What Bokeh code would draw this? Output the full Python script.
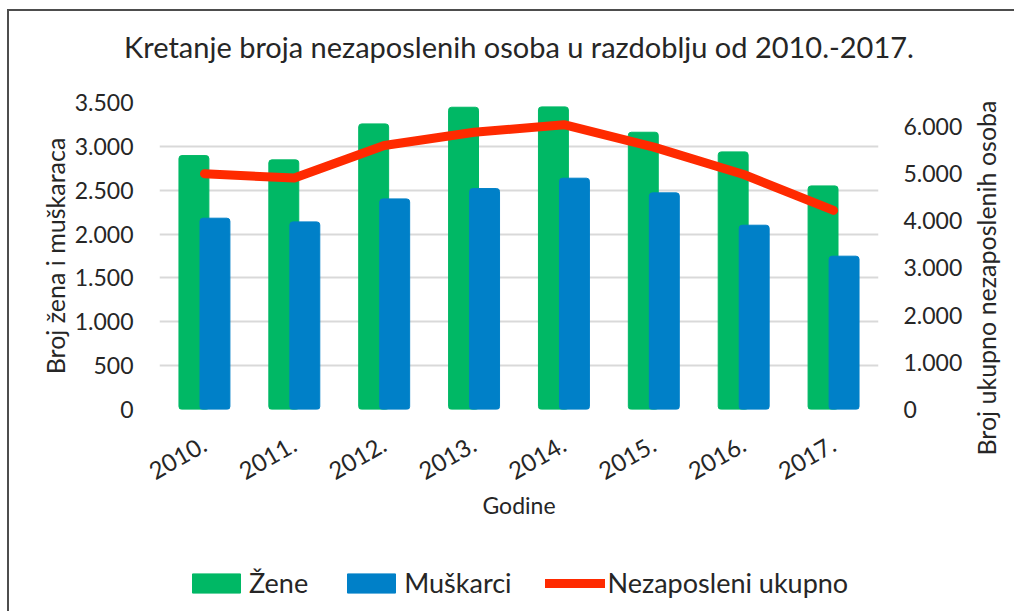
import math
from bokeh.plotting import figure
from bokeh.layouts import column
from bokeh.models import (FactorRange, Range1d, LinearAxis, Legend, LegendItem,
                          FixedTicker, Div)
from bokeh.transform import dodge
from bokeh.embed import file_html
from bokeh.resources import INLINE

# ---- data ----
years = ["2010.", "2011.", "2012.", "2013.", "2014.", "2015.", "2016.", "2017."]
zene = [2895, 2846, 3256, 3446, 3450, 3161, 2937, 2549]
muskarci = [2181, 2139, 2401, 2519, 2637, 2470, 2101, 1748]
ukupno = [4990, 4900, 5590, 5870, 6030, 5555, 4975, 4215]

left_ticks = [0, 500, 1000, 1500, 2000, 2500, 3000, 3500]
left_tick_labels = ["0", "500", "1.000", "1.500", "2.000", "2.500", "3.000", "3.500"]
right_ticks = [0, 1000, 2000, 3000, 4000, 5000, 6000]
right_tick_labels = ["0", "1.000", "2.000", "3.000", "4.000", "5.000", "6.000"]

title_text = "Kretanje broja nezaposlenih osoba u razdoblju od 2010.-2017."
left_label = "Broj žena i muškaraca"
right_label = "Broj ukupno nezaposlenih osoba"
x_label = "Godine"
series_names = ["Žene", "Muškarci", "Nezaposleni ukupno"]

FONT = "Lato"
TXT = "#262626"
GREEN = "#00B865"
BLUE = "#0080C8"
RED = "#FF2A00"
GRID = "#D9D9D9"
W = 1014


def bare(fig):
    fig.outline_line_color = None
    fig.border_fill_alpha = 0
    fig.background_fill_alpha = 0
    fig.xgrid.visible = False
    fig.ygrid.visible = False


# ---- title strip (title placed under a thin empty frame) ----
pt = figure(width=W, height=70, x_range=Range1d(0, 1), y_range=Range1d(0, 1),
            output_backend="svg", toolbar_location=None,
            x_axis_location=None, y_axis_location=None, title_location="below",
            min_border_top=0, min_border_bottom=49)
bare(pt)
pt.title.text = title_text
pt.title.align = "center"
pt.title.text_font = FONT
pt.title.text_font_size = "29px"
pt.title.text_font_style = "normal"
pt.title.text_color = TXT

# ---- main chart ----
p = figure(width=W, height=475, x_range=FactorRange(*years),
           y_range=Range1d(0, 3500), output_backend="svg", toolbar_location=None,
           min_border_left=159, min_border_right=136, min_border_top=32,
           min_border_bottom=136)
p.outline_line_color = None
p.border_fill_alpha = 0
p.background_fill_color = "white"
p.extra_y_ranges = {"right": Range1d(0, 6500)}

src = dict(years=years, zene=zene, muskarci=muskarci)
g = p.vbar(x=dodge("years", -0.117, range=p.x_range), top="zene", width=0.333,
           source=src, fill_color=GREEN, line_color=GREEN, border_radius=3)
b = p.vbar(x=dodge("years", 0.117, range=p.x_range), top="muskarci", width=0.333,
           source=src, fill_color=BLUE, line_color=BLUE, border_radius=3)
r = p.line(x=years, y=ukupno, y_range_name="right", line_color=RED,
           line_width=9, line_cap="round", line_join="round")

ya = p.yaxis[0]
ya.ticker = FixedTicker(ticks=left_ticks)
ya.major_label_overrides = {t: l for t, l in zip(left_ticks, left_tick_labels)}
p.ygrid.ticker = FixedTicker(ticks=left_ticks)
p.ygrid.grid_line_color = GRID
p.ygrid.grid_line_width = 2
p.xgrid.grid_line_color = None

ra = LinearAxis(y_range_name="right", ticker=FixedTicker(ticks=right_ticks))
ra.major_label_overrides = {t: l for t, l in zip(right_ticks, right_tick_labels)}
p.add_layout(ra, "right")

ya.axis_label = left_label
ya.major_label_standoff = 26
ya.axis_label_standoff = 2
ra.major_label_standoff = 25

xa = p.xaxis[0]
xa.axis_label = x_label
xa.major_label_orientation = math.pi / 6
xa.major_label_standoff = 33
xa.axis_label_standoff = 0

for ax in [ya, ra, xa]:
    ax.axis_line_color = None
    ax.major_tick_line_color = None
    ax.minor_tick_line_color = None
    ax.major_tick_out = 0
    ax.major_tick_in = 0
    ax.minor_tick_out = 0
    ax.major_label_text_font = FONT
    ax.major_label_text_font_size = "23px"
    ax.major_label_text_color = TXT
    ax.axis_label_text_font = FONT
    ax.axis_label_text_font_size = "25px"
    ax.axis_label_text_font_style = "normal"
    ax.axis_label_text_color = TXT
xa.major_label_text_font_size = "24px"
xa.axis_label_text_font_size = "23px"

# ---- legend strip ----
pl = figure(width=W, height=66, x_range=Range1d(0, 1), y_range=Range1d(0, 1),
            output_backend="svg", toolbar_location=None,
            x_axis_location=None, y_axis_location=None,
            min_border_top=0, min_border_bottom=0)
bare(pl)
# zero-height stand-ins that only supply the legend swatches
lg = pl.vbar(x=[0.5], top=[0], bottom=[0], width=0.0, fill_color=GREEN,
             line_color=GREEN, border_radius=3)
lb = pl.vbar(x=[0.5], top=[0], bottom=[0], width=0.0, fill_color=BLUE,
             line_color=BLUE, border_radius=3)
lr = pl.line(x=[0.5], y=[0], line_color=RED, line_width=9, line_cap="round")
legend = Legend(items=[LegendItem(label=series_names[0], renderers=[lg]),
                       LegendItem(label=series_names[1], renderers=[lb]),
                       LegendItem(label=series_names[2], renderers=[lr])],
                orientation="horizontal", location=(27, 12),
                glyph_width=60, glyph_height=24, label_standoff=3, spacing=33,
                padding=0, margin=0, border_line_color=None,
                background_fill_alpha=0,
                label_text_font=FONT, label_text_font_size="27px",
                label_text_color=TXT)
pl.add_layout(legend, "center")

# right-hand axis title, reading bottom-to-top like the reference
right_title = Div(text=right_label, width=380, height=30, styles={
    "position": "absolute", "left": "791px", "top": "258px",
    "transform": "rotate(-90deg)", "transform-origin": "50% 50%",
    "font-family": "Lato", "font-size": "25px", "color": TXT,
    "white-space": "nowrap", "text-align": "center", "line-height": "30px",
})

layout = column(pt, p, pl, right_title, spacing=0)
layout.styles = {
    "position": "relative",
    "background-color": "white",
    "background-image": "linear-gradient(#4d4d4d,#4d4d4d), linear-gradient(#4d4d4d,#4d4d4d)",
    "background-position": "8px 9px, 7px 9px",
    "background-size": "1006px 2px, 2px 700px",
    "background-repeat": "no-repeat, no-repeat",
}

open("out.html", "w").write(file_html(layout, INLINE))
